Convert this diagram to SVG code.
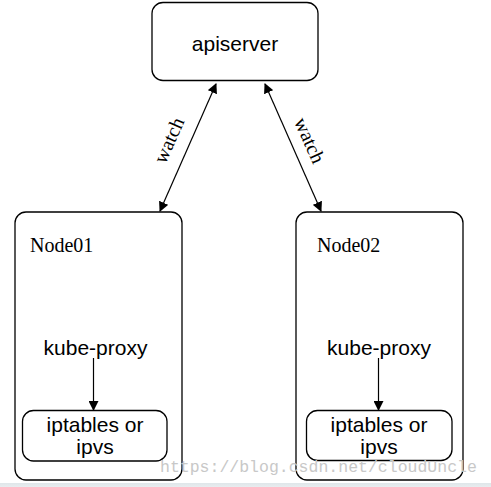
<svg xmlns="http://www.w3.org/2000/svg" width="491" height="487" viewBox="0 0 491 487">
<defs>
<marker id="ah" markerWidth="10" markerHeight="10" refX="9" refY="5" orient="auto-start-reverse" markerUnits="userSpaceOnUse">
<path d="M0,0 L10,5 L0,10 z" fill="#000"/>
</marker>
<linearGradient id="band" x1="0" y1="0" x2="0" y2="1">
<stop offset="0" stop-color="#dfe6e9"/>
<stop offset="1" stop-color="#e8edef"/>
</linearGradient>
</defs>
<style>
.box{fill:#fff;stroke:#000;stroke-width:1.3}
.sans{font-family:"Liberation Sans",Arial,sans-serif;font-size:21px;fill:#000;text-anchor:middle}
.serif{font-family:"Liberation Serif","Times New Roman",serif;font-size:20px;fill:#000}
.conn{stroke:#000;stroke-width:1.2;fill:none}
.wm{font-family:"Liberation Mono","Courier New",monospace;font-size:16.5px;fill:#c8c8c8}
</style>
<rect x="0" y="0" width="491" height="487" fill="#fff"/>
<rect x="0" y="483" width="491" height="4" fill="url(#band)"/>
<g id="apiserver">
<rect class="box" x="152" y="2.5" width="166" height="78" rx="11"/>
<text class="sans" x="235" y="51">apiserver</text>
</g>
<g id="node01">
<rect class="box" x="15" y="212" width="167" height="268" rx="11"/>
<text class="serif" x="30" y="252">Node01</text>
<text class="sans" x="95.5" y="355">kube-proxy</text>
</g>
<g id="iptables01">
<rect class="box" x="22.5" y="410.5" width="144.5" height="50.5" rx="11"/>
<text class="sans" x="95" y="432">iptables or</text>
<text class="sans" x="95" y="454">ipvs</text>
</g>
<g id="node02">
<rect class="box" x="296" y="212" width="167" height="268" rx="11"/>
<text class="serif" x="317" y="252">Node02</text>
<text class="sans" x="379" y="354.5">kube-proxy</text>
</g>
<g id="iptables02">
<rect class="box" x="306.5" y="410.5" width="145.5" height="50" rx="11"/>
<text class="sans" x="379" y="432">iptables or</text>
<text class="sans" x="379" y="454">ipvs</text>
</g>
<g id="connectors">
<line class="conn" x1="216" y1="84" x2="160" y2="211" marker-start="url(#ah)" marker-end="url(#ah)"/>
<line class="conn" x1="265" y1="84" x2="321" y2="211" marker-start="url(#ah)" marker-end="url(#ah)"/>
<line class="conn" x1="93.5" y1="358" x2="93.5" y2="410" marker-end="url(#ah)"/>
<line class="conn" x1="378.5" y1="358" x2="378.5" y2="410" marker-end="url(#ah)"/>
<text class="serif" text-anchor="middle" transform="translate(175,143) rotate(-66)">watch</text>
<text class="serif" text-anchor="middle" transform="translate(303.5,143) rotate(66)">watch</text>
</g>
<text class="wm" x="160" y="472">https://blog.csdn.net/cloudUncle</text>
</svg>
